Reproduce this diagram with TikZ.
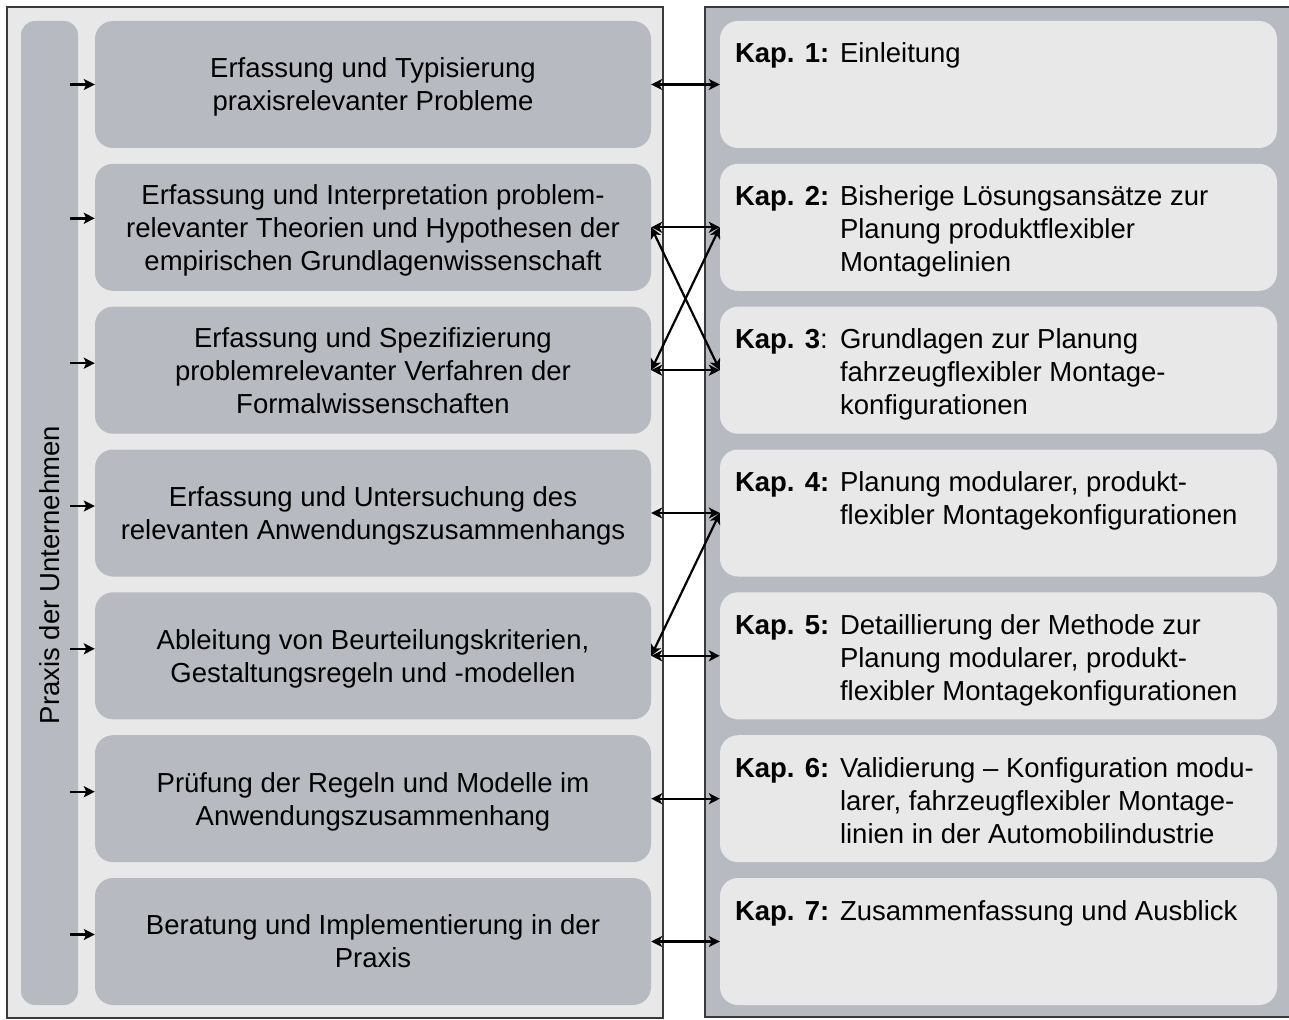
\documentclass[tikz,border=0pt]{standalone}
\usepackage{fontspec}
\setmainfont{Liberation Sans}
\usetikzlibrary{arrows.meta,calc}
\definecolor{panel}{HTML}{E8E8E8}
\definecolor{slate}{HTML}{B7BBC1}
\definecolor{rim}{HTML}{3A3A3A}
\newcommand{\txtsize}{\fontsize{27.5}{33}\selectfont}
\newcommand{\firstline}{\rule{0pt}{26pt}}
\tikzset{
  lbox/.style={fill=slate, rounded corners=18pt, minimum width=556pt,
    minimum height=127pt, inner sep=0pt, align=center, font=\txtsize,
    text depth=0pt},
  rbox/.style={fill=panel, rounded corners=18pt, minimum width=557pt,
    minimum height=127pt, inner sep=0pt},
  railbar/.style={fill=slate, rounded corners=14pt, minimum width=57pt,
    minimum height=984pt, inner sep=0pt},
  kap/.style={anchor=north west, inner sep=0pt, font=\txtsize\bfseries},
  body/.style={anchor=north west, inner sep=0pt, align=left, font=\txtsize},
  feed/.style={line width=2.4pt, -{Stealth[length=11pt,width=11pt,inset=2.5pt]}},
  link/.style={line width=2.2pt,
    {Stealth[length=11pt,width=11pt,inset=3pt]}-{Stealth[length=11pt,width=11pt,inset=3pt]}},
}
\begin{document}
\begin{tikzpicture}[x=1pt,y=-1pt]
\useasboundingbox (0,0) rectangle (1289,1019);

% outer frames
\fill[panel] (7,7) rectangle (663,1018);
\draw[rim, line width=1.8pt] (7,7) rectangle (663,1018);
\fill[slate] (705,7) rectangle (1292,1017);
\draw[rim, line width=1.8pt] (1292,7) -- (705,7) -- (705,1017) -- (1292,1017);

% vertical bar
\node[railbar] (bar) at (49.5,513) {};
\node[rotate=90, font=\txtsize] (barlabel) at ([yshift=-62pt]bar.center) {Praxis der Unternehmen};

% research steps
\node[lbox] (b1) at (373,84.5) {Erfassung und Typisierung\\praxisrelevanter Probleme};
\node[lbox] (b2) at (373,227.3) {Erfassung und Interpretation problem-\\relevanter Theorien und Hypothesen der\\empirischen Grundlagenwissenschaft};
\node[lbox] (b3) at (373,370.2) {Erfassung und Spezifizierung\\problemrelevanter Verfahren der\\Formalwissenschaften};
\node[lbox] (b4) at (373,513) {Erfassung und Untersuchung des\\relevanten Anwendungszusammenhangs};
\node[lbox] (b5) at (373,655.8) {Ableitung von Beurteilungskriterien,\\Gestaltungsregeln und -modellen};
\node[lbox] (b6) at (373,798.7) {Prüfung der Regeln und Modelle im\\Anwendungszusammenhang};
\node[lbox] (b7) at (373,941.5) {Beratung und Implementierung in der\\Praxis};

% chapters
\node[rbox] (k1) at (998.5,84.5) {};
\node[rbox] (k2) at (998.5,227.3) {};
\node[rbox] (k3) at (998.5,370.2) {};
\node[rbox] (k4) at (998.5,513) {};
\node[rbox] (k5) at (998.5,655.8) {};
\node[rbox] (k6) at (998.5,798.7) {};
\node[rbox] (k7) at (998.5,941.5) {};

\node[kap] (k1n) at ($(k1.north west)+(15pt,-16pt)$) {\firstline Kap. 1:};
\node[kap] (k2n) at ($(k2.north west)+(15pt,-16pt)$) {\firstline Kap. 2:};
\node[kap] (k3n) at ($(k3.north west)+(15pt,-16pt)$) {\firstline Kap. 3\mdseries:};
\node[kap] (k4n) at ($(k4.north west)+(15pt,-16pt)$) {\firstline Kap. 4:};
\node[kap] (k5n) at ($(k5.north west)+(15pt,-16pt)$) {\firstline Kap. 5:};
\node[kap] (k6n) at ($(k6.north west)+(15pt,-16pt)$) {\firstline Kap. 6:};
\node[kap] (k7n) at ($(k7.north west)+(15pt,-16pt)$) {\firstline Kap. 7:};

\node[body] (k1t) at ($(k1.north west)+(120pt,-16pt)$) {\firstline Einleitung};
\node[body] (k2t) at ($(k2.north west)+(120pt,-16pt)$) {\firstline Bisherige Lösungsansätze zur\\Planung produktflexibler\\Montagelinien};
\node[body] (k3t) at ($(k3.north west)+(120pt,-16pt)$) {\firstline Grundlagen zur Planung\\fahrzeugflexibler Montage-\\konfigurationen};
\node[body] (k4t) at ($(k4.north west)+(120pt,-16pt)$) {\firstline Planung modularer, produkt-\\flexibler Montagekonfigurationen};
\node[body] (k5t) at ($(k5.north west)+(120pt,-16pt)$) {\firstline Detaillierung der Methode zur\\Planung modularer, produkt-\\flexibler Montagekonfigurationen};
\node[body] (k6t) at ($(k6.north west)+(120pt,-16pt)$) {\firstline Validierung -- Konfiguration modu-\\larer, fahrzeugflexibler Montage-\\linien in der Automobilindustrie};
\node[body] (k7t) at ($(k7.north west)+(120pt,-16pt)$) {\firstline Zusammenfassung und Ausblick};

% inputs from practice
\draw[feed] ($(bar.east |- b1.west)+(-8pt,0pt)$) -- (b1.west);
\draw[feed] ($(bar.east |- b2.west)+(-8pt,9pt)$) -- ($(b2.west)+(0pt,9pt)$);
\draw[feed] ($(bar.east |- b3.west)+(-8pt,7pt)$) -- ($(b3.west)+(0pt,7pt)$);
\draw[feed] ($(bar.east |- b4.west)+(-8pt,7pt)$) -- ($(b4.west)+(0pt,7pt)$);
\draw[feed] ($(bar.east |- b5.west)+(-8pt,7pt)$) -- ($(b5.west)+(0pt,7pt)$);
\draw[feed] ($(bar.east |- b6.west)+(-8pt,7pt)$) -- ($(b6.west)+(0pt,7pt)$);
\draw[feed] ($(bar.east |- b7.west)+(-8pt,7pt)$) -- ($(b7.west)+(0pt,7pt)$);

% step-to-chapter links
\draw[link] (b1.east) -- (k1.west);
\draw[link] (b2.east) -- (k2.west);
\draw[link] (b3.east) -- (k3.west);
\draw[link] (b2.east) -- (k3.west);
\draw[link] (b3.east) -- (k2.west);
\draw[link] (b4.east) -- (k4.west);
\draw[link] (b5.east) -- (k5.west);
\draw[link] (b5.east) -- (k4.west);
\draw[link] (b6.east) -- (k6.west);
\draw[link] (b7.east) -- (k7.west);
\end{tikzpicture}
\end{document}
